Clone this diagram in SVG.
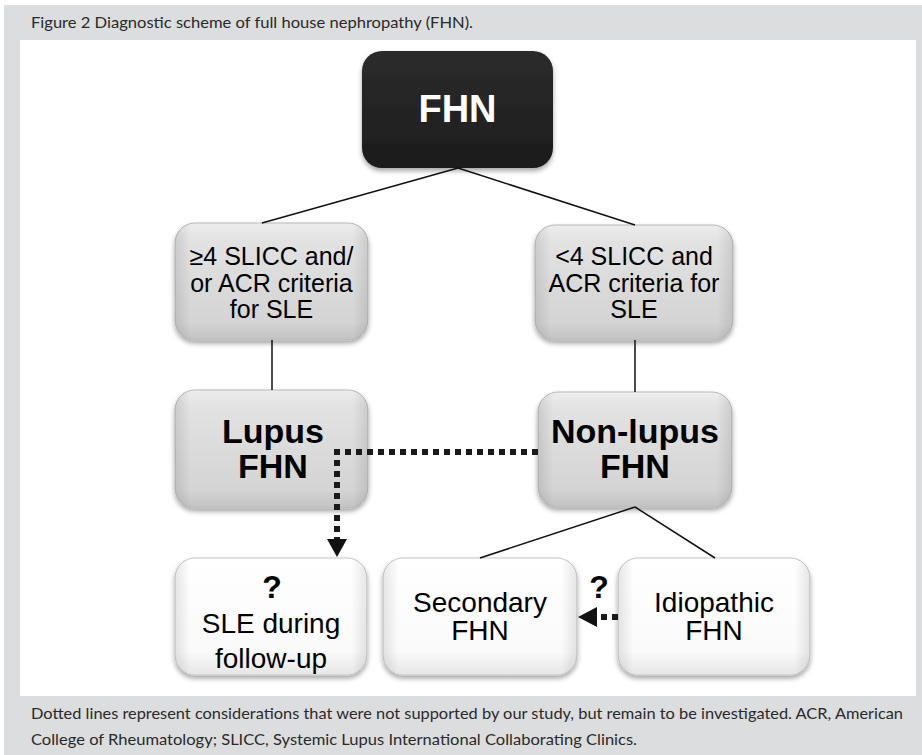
<svg xmlns="http://www.w3.org/2000/svg" width="922" height="755" viewBox="0 0 922 755">
<defs>
<style>
.cap{font-family:Lato,"Open Sans","Liberation Sans",sans-serif;fill:#2a2a2a;font-size:16px}
.t{font-family:"Liberation Sans",Arial,sans-serif;fill:#000;text-anchor:middle}
.n{font-size:25px}
.b{font-size:34px;font-weight:bold}
.w{font-size:28px}
.q{font-size:32px;font-weight:bold}
.ln{stroke:#111;stroke-width:1.5;fill:none}
.dot{stroke:#1a1a1a;stroke-width:6;fill:none}
.gray{fill:url(#gGray);stroke:#b8b8b8;stroke-width:1}
.wht{fill:url(#gWhite);stroke:#c8c8c8;stroke-width:1}
.side{fill:url(#gSide)}
</style>
<linearGradient id="gGray" x1="0" y1="0" x2="0" y2="1">
<stop offset="0" stop-color="#ededed"/>
<stop offset="0.15" stop-color="#e2e2e2"/>
<stop offset="0.85" stop-color="#d4d4d4"/>
<stop offset="1" stop-color="#c2c2c2"/>
</linearGradient>
<linearGradient id="gWhite" x1="0" y1="0" x2="0" y2="1">
<stop offset="0" stop-color="#ffffff"/>
<stop offset="0.8" stop-color="#fafafa"/>
<stop offset="1" stop-color="#e6e6e6"/>
</linearGradient>
<linearGradient id="gSide" x1="0" y1="0" x2="1" y2="0">
<stop offset="0" stop-color="#000" stop-opacity="0.10"/>
<stop offset="0.08" stop-color="#000" stop-opacity="0"/>
<stop offset="0.92" stop-color="#000" stop-opacity="0"/>
<stop offset="1" stop-color="#000" stop-opacity="0.10"/>
</linearGradient>
<linearGradient id="gDark" x1="0" y1="0" x2="0" y2="1">
<stop offset="0" stop-color="#2c2c2c"/>
<stop offset="1" stop-color="#1c1c1c"/>
</linearGradient>
<filter id="sh" x="-10%" y="-10%" width="120%" height="130%">
<feDropShadow dx="0" dy="3" stdDeviation="2.5" flood-color="#000" flood-opacity="0.35"/>
</filter>
</defs>

<rect x="4" y="5" width="918" height="750" fill="#dcdddf"/>
<rect x="20" y="40" width="896" height="656" fill="#ffffff"/>
<text class="cap" x="31" y="28" textLength="442" lengthAdjust="spacingAndGlyphs">Figure 2 Diagnostic scheme of full house nephropathy (FHN).</text>
<text class="cap" x="31" y="719" textLength="872" lengthAdjust="spacingAndGlyphs">Dotted lines represent considerations that were not supported by our study, but remain to be investigated. ACR, American</text>
<text class="cap" x="31" y="745" textLength="606" lengthAdjust="spacingAndGlyphs">College of Rheumatology; SLICC, Systemic Lupus International Collaborating Clinics.</text>

<g id="fhn">
<rect x="362" y="51" width="191" height="117" rx="20" fill="url(#gDark)" filter="url(#sh)"/>
<text x="457.5" y="122" text-anchor="middle" font-family="Liberation Sans,Arial,sans-serif" font-size="38" font-weight="bold" fill="#fff">FHN</text>
</g>

<g id="criteria-yes">
<rect class="gray" x="175" y="223" width="193" height="117" rx="20" filter="url(#sh)"/>
<rect class="side" x="175" y="223" width="193" height="117" rx="20"/>
<text class="t n" x="271.5" y="265">≥4 SLICC and/</text>
<text class="t n" x="271.5" y="292">or ACR criteria</text>
<text class="t n" x="271.5" y="318">for SLE</text>
</g>

<g id="criteria-no">
<rect class="gray" x="535" y="225" width="198" height="115" rx="20" filter="url(#sh)"/>
<rect class="side" x="535" y="225" width="198" height="115" rx="20"/>
<text class="t n" x="634" y="265">&lt;4 SLICC and</text>
<text class="t n" x="634" y="292">ACR criteria for</text>
<text class="t n" x="634" y="318">SLE</text>
</g>

<g id="lupus">
<rect class="gray" x="175" y="390" width="193" height="118" rx="20" filter="url(#sh)"/>
<rect class="side" x="175" y="390" width="193" height="118" rx="20"/>
<text class="t b" x="273" y="443">Lupus</text>
<text class="t b" x="273" y="478">FHN</text>
</g>

<g id="nonlupus">
<rect class="gray" x="538" y="392" width="194" height="115" rx="20" filter="url(#sh)"/>
<rect class="side" x="538" y="392" width="194" height="115" rx="20"/>
<text class="t b" x="635" y="443">Non-lupus</text>
<text class="t b" x="635" y="478">FHN</text>
</g>

<g id="sle-followup">
<rect class="wht" x="175" y="558" width="192" height="117" rx="20" filter="url(#sh)"/>
<rect class="side" x="175" y="558" width="192" height="117" rx="20"/>
<text class="t q" x="272" y="598">?</text>
<text class="t w" x="271" y="633">SLE during</text>
<text class="t w" x="271" y="668">follow-up</text>
</g>

<g id="secondary">
<rect class="wht" x="383" y="558" width="194" height="117" rx="20" filter="url(#sh)"/>
<rect class="side" x="383" y="558" width="194" height="117" rx="20"/>
<text class="t w" x="480" y="612">Secondary</text>
<text class="t w" x="480" y="640">FHN</text>
</g>

<g id="idiopathic">
<rect class="wht" x="618" y="558" width="192" height="117" rx="20" filter="url(#sh)"/>
<rect class="side" x="618" y="558" width="192" height="117" rx="20"/>
<text class="t w" x="714" y="612">Idiopathic</text>
<text class="t w" x="714" y="640">FHN</text>
</g>

<g id="q-label">
<text class="t q" x="599" y="598">?</text>
</g>

<g id="connectors">
<path class="ln" d="M458,168 L262,223"/>
<path class="ln" d="M458,168 L635,225"/>
<path class="ln" d="M272,340 V390"/>
<path class="ln" d="M635,340 V392"/>
<path class="ln" d="M635,507 L480,558"/>
<path class="ln" d="M635,507 L715,558"/>
<path class="dot" d="M538,452 H337 V540" stroke-dasharray="6 5"/>
<polygon points="327,539 347,539 337,557" fill="#111"/>
<path class="dot" d="M618,617 H597" stroke-dasharray="6 5"/>
<polygon points="597,607 597,627 578,617" fill="#111"/>
</g>
</svg>
